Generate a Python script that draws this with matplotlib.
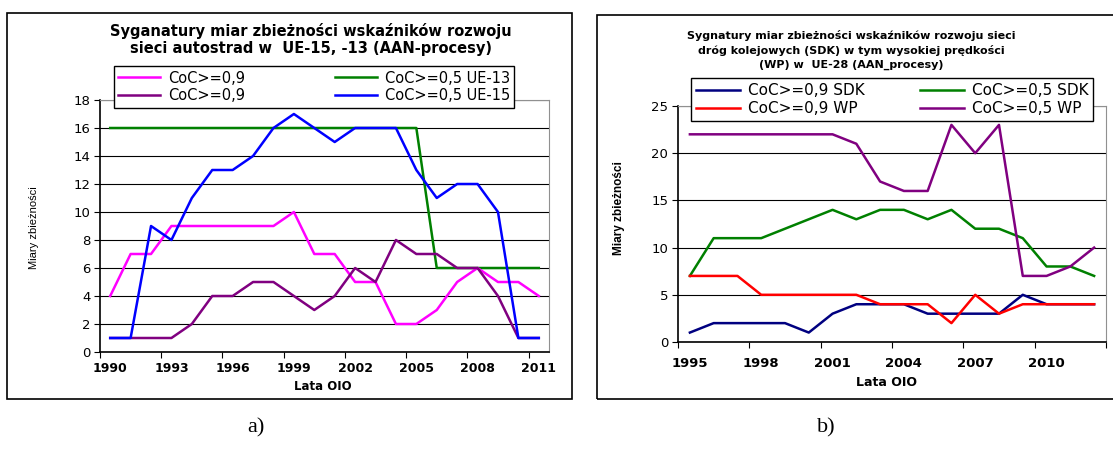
import matplotlib
matplotlib.use("Agg")
import matplotlib.pyplot as plt
from matplotlib.patches import Rectangle

plt.rcParams['font.family'] = ['DejaVu Sans']

# --- data, chart a) motorways 1990-2011
years_a = list(range(1990, 2012))
coc09_a1 = [4, 7, 7, 9, 9, 9, 9, 9, 9, 10, 7, 7, 5, 5, 2, 2, 3, 5, 6, 5, 5, 4]
coc09_a2 = [1, 1, 1, 1, 2, 4, 4, 5, 5, 4, 3, 4, 6, 5, 8, 7, 7, 6, 6, 4, 1, 1]
coc05_ue13 = [16, 16, 16, 16, 16, 16, 16, 16, 16, 16, 16, 16, 16, 16, 16, 16, 6, 6, 6, 6, 6, 6]
coc05_ue15 = [1, 1, 9, 8, 11, 13, 13, 14, 16, 17, 16, 15, 16, 16, 16, 13, 11, 12, 12, 10, 1, 1]

# --- data, chart b) railways 1995-2012
years_b = list(range(1995, 2013))
coc09_sdk = [1, 2, 2, 2, 2, 1, 3, 4, 4, 4, 3, 3, 3, 3, 5, 4, 4, 4]
coc09_wp = [7, 7, 7, 5, 5, 5, 5, 5, 4, 4, 4, 2, 5, 3, 4, 4, 4, 4]
coc05_sdk = [7, 11, 11, 11, 12, 13, 14, 13, 14, 14, 13, 14, 12, 12, 11, 8, 8, 7]
coc05_wp = [22, 22, 22, 22, 22, 22, 22, 21, 17, 16, 16, 23, 20, 23, 7, 7, 8, 10]

W, H = 1113, 450
fig = plt.figure(figsize=(W / 100, H / 100), dpi=100)


def px_axes(left, top, right, bottom):
    return fig.add_axes([left / W, 1 - bottom / H, (right - left) / W, (bottom - top) / H])


def style_axes(ax, years, ymax, ystep, xfs, xpad):
    n = len(years)
    ax.set_xlim(-0.5, n - 0.5)
    ax.set_ylim(0, ymax)
    ax.set_yticks(range(0, ymax + 1, ystep))
    # tick marks between categories, labels on every third category
    ax.set_xticks([i - 0.5 for i in range(0, n + 1, 3)])
    ax.set_xticklabels([])
    ax.set_xticks(list(range(0, n, 3)), minor=True)
    ax.set_xticklabels([str(years[i]) for i in range(0, n, 3)], minor=True,
                       fontsize=xfs, fontweight='bold')
    ax.tick_params(axis='x', which='minor', length=0, pad=xpad)
    ax.tick_params(axis='x', which='major', length=4, direction='out')
    ax.tick_params(axis='y', length=4, direction='out', labelsize=9.5, pad=3)
    ax.yaxis.grid(True, color='black', linewidth=0.8)
    ax.set_axisbelow(True)
    for s in ['top', 'right']:
        ax.spines[s].set_color('#909090')
    for s in ['left', 'bottom']:
        ax.spines[s].set_color('black')
        ax.spines[s].set_linewidth(1.2)


# panel frames
fig.patches.append(Rectangle((7 / W, 1 - 399 / H), 565 / W, 386 / H, transform=fig.transFigure,
                             fill=False, edgecolor='black', linewidth=1.2))
fig.patches.append(Rectangle((597 / W, 1 - 399 / H), 530 / W, 384 / H, transform=fig.transFigure,
                             fill=False, edgecolor='black', linewidth=1.2))

LW = 1.8

# ---- chart a)
ax1 = px_axes(100, 100, 549, 352)
style_axes(ax1, years_a, 18, 2, 9, 7)
x_a = range(len(years_a))
l_g, = ax1.plot(x_a, coc05_ue13, color='#008000', lw=LW, label='CoC>=0,5 UE-13')
l_m, = ax1.plot(x_a, coc09_a1, color='#FF00FF', lw=LW, label='CoC>=0,9')
l_p, = ax1.plot(x_a, coc09_a2, color='#800080', lw=LW, label='CoC>=0,9')
l_b, = ax1.plot(x_a, coc05_ue15, color='#0000FF', lw=LW, label='CoC>=0,5 UE-15')
leg1 = fig.legend([l_m, l_p, l_g, l_b], [h.get_label() for h in [l_m, l_p, l_g, l_b]],
                  ncol=2, loc='center', bbox_to_anchor=(314 / W, 1 - 87 / H),
                  fontsize=10.5, handlelength=2.9, handletextpad=0.5, columnspacing=6.2,
                  fancybox=False, edgecolor='black', framealpha=1, borderpad=0.3,
                  labelspacing=0.2)
leg1.get_frame().set_linewidth(1.0)

fig.text(311 / W, 1 - 39.5 / H,
         'Syganatury miar zbieżności wskaźników rozwoju\nsieci autostrad w  UE-15, -13 (AAN-procesy)',
         ha='center', va='center', fontsize=10.5, fontweight='bold', linespacing=1.1)
fig.text(34 / W, 1 - 228 / H, 'Miary zbieżności', rotation=90, ha='center', va='center',
         fontsize=8, family='Liberation Sans')
fig.text(323 / W, 1 - 386 / H, 'Lata OIO', ha='center', va='center', fontsize=8.5, fontweight='bold')

# ---- chart b)
ax2 = px_axes(678, 106, 1106, 342)
style_axes(ax2, years_b, 25, 5, 9.5, 11)
x_b = range(len(years_b))
r_n, = ax2.plot(x_b, coc09_sdk, color='#000080', lw=LW, label='CoC>=0,9 SDK')
r_g, = ax2.plot(x_b, coc05_sdk, color='#008000', lw=LW, label='CoC>=0,5 SDK')
r_r, = ax2.plot(x_b, coc09_wp, color='#FF0000', lw=LW, label='CoC>=0,9 WP')
r_p, = ax2.plot(x_b, coc05_wp, color='#800080', lw=LW, label='CoC>=0,5 WP')
leg2 = fig.legend([r_n, r_r, r_g, r_p], [h.get_label() for h in [r_n, r_r, r_g, r_p]],
                  ncol=2, loc='center', bbox_to_anchor=(892 / W, 1 - 99.5 / H),
                  fontsize=11, handlelength=2.9, handletextpad=0.5, columnspacing=3.6,
                  fancybox=False, edgecolor='black', framealpha=1, borderpad=0.3,
                  labelspacing=0.2)
leg2.get_frame().set_linewidth(1.0)

fig.text(851 / W, 1 - 50 / H,
         'Sygnatury miar zbieżności wskaźników rozwoju sieci\ndróg kolejowych (SDK) w tym wysokiej prędkości\n(WP) w  UE-28 (AAN_procesy)',
         ha='center', va='center', fontsize=8, fontweight='bold', linespacing=1.4)
fig.text(619 / W, 1 - 208 / H, 'Miary zbieżności', rotation=90, ha='center', va='center',
         fontsize=8.5, fontweight='bold', family='Liberation Sans')
fig.text(887 / W, 1 - 382 / H, 'Lata OIO', ha='center', va='center', fontsize=9, fontweight='bold')

# captions
fig.text(256 / W, 1 - 428 / H, 'a)', ha='center', va='center', fontsize=16, family='Liberation Serif')
fig.text(826 / W, 1 - 428 / H, 'b)', ha='center', va='center', fontsize=16, family='Liberation Serif')

fig.savefig('out.png', dpi=100)
